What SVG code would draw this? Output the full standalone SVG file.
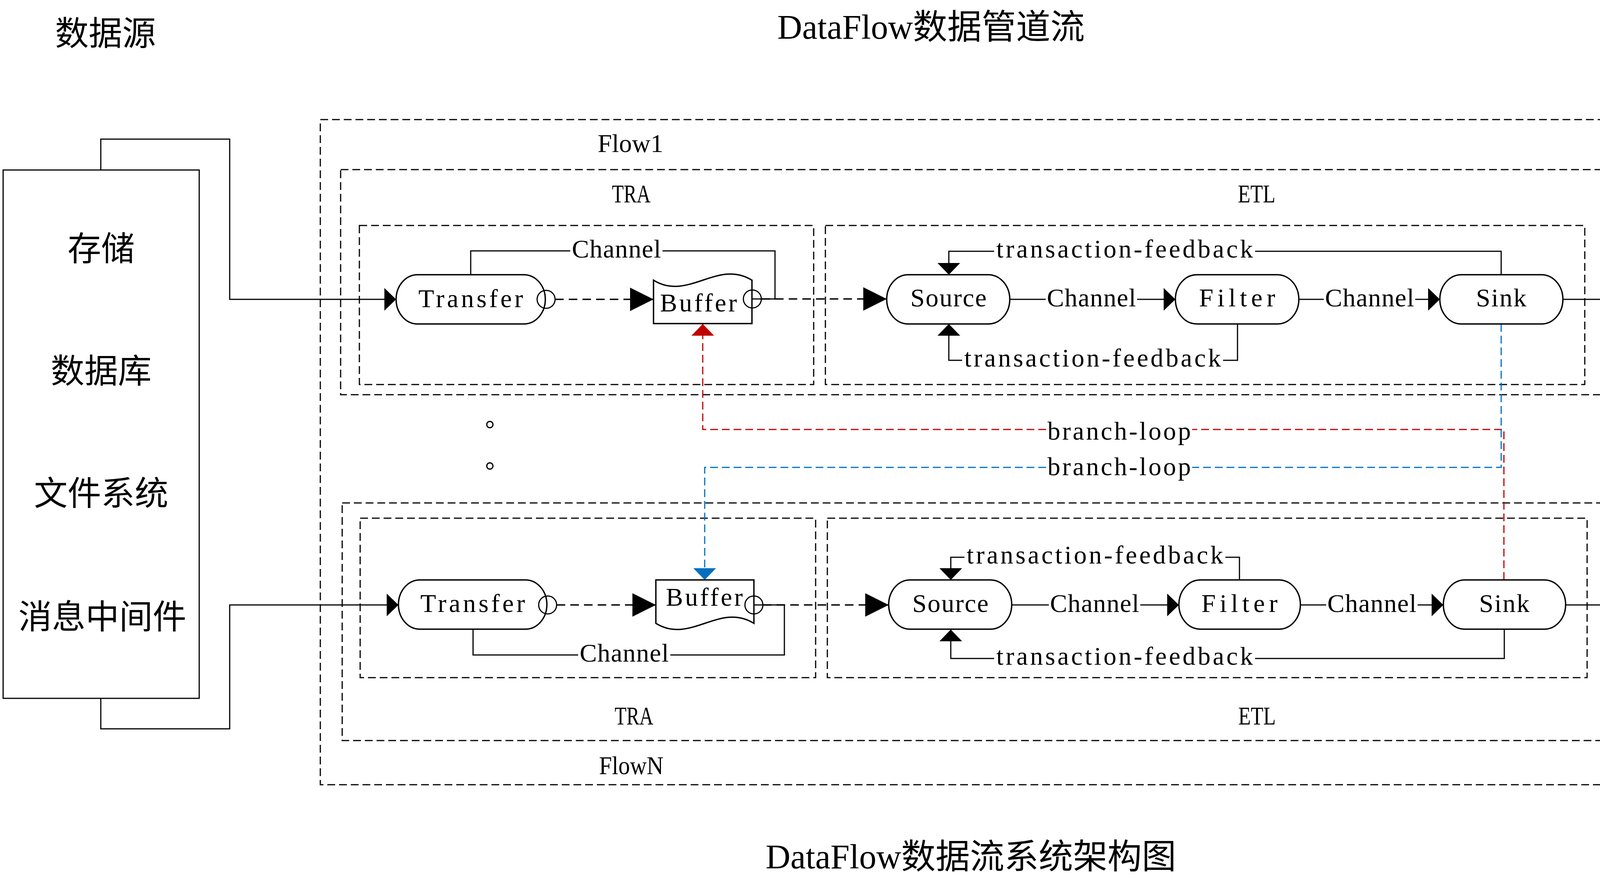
<svg xmlns="http://www.w3.org/2000/svg" width="4993" height="2280" viewBox="0 0 4993 2280">
<style>
.ln{fill:none;stroke:#000;stroke-width:3}
.dc{fill:none;stroke:#000;stroke-width:3.5;stroke-dasharray:22 13}
.bx{fill:none;stroke:#000;stroke-width:3;stroke-dasharray:20 10}
.rd{fill:none;stroke:#C00000;stroke-width:3;stroke-dasharray:20 10}
.bl{fill:none;stroke:#0070C0;stroke-width:3;stroke-dasharray:20 10}
.nd{fill:#fff;stroke:#000;stroke-width:3.5}
.pt{fill:none;stroke:#000;stroke-width:3}
.box{fill:#fff;stroke:#000;stroke-width:3}
.t{font-family:"Liberation Serif",serif;font-size:66px;text-anchor:middle;fill:#000}
.c{font-family:"Noto Sans CJK SC",sans-serif;font-size:86px;text-anchor:middle;fill:#000}
.tl{font-family:"Liberation Serif","Noto Sans CJK SC",serif;font-size:88px;fill:#000}
.tl .cj{font-family:"Noto Sans CJK SC",sans-serif}
.dot{font-family:"Noto Sans CJK SC",sans-serif;font-size:62px;fill:#000}
</style>
<defs>
<marker id="aS" viewBox="0 0 30 58" refX="30" refY="29" markerWidth="30" markerHeight="58" markerUnits="userSpaceOnUse" orient="auto"><path d="M0,0 L30,29 L0,58 Z" fill="#000"/></marker>
<marker id="aD" viewBox="0 0 60 60" refX="60" refY="30" markerWidth="60" markerHeight="60" markerUnits="userSpaceOnUse" orient="auto"><path d="M0,0 L60,30 L0,60 Z" fill="#000"/></marker>
<marker id="aR" viewBox="0 0 30 58" refX="30" refY="29" markerWidth="30" markerHeight="58" markerUnits="userSpaceOnUse" orient="auto"><path d="M0,0 L30,29 L0,58 Z" fill="#C00000"/></marker>
<marker id="aB" viewBox="0 0 30 58" refX="30" refY="29" markerWidth="30" markerHeight="58" markerUnits="userSpaceOnUse" orient="auto"><path d="M0,0 L30,29 L0,58 Z" fill="#0070C0"/></marker>
</defs>
<rect width="4993" height="2280" fill="#fff"/>

<g id="titles">
<text class="c" x="270" y="116">数据源</text>
<text class="c" x="4732" y="116">目标件</text>
<text class="tl" x="1990" y="99">DataFlow<tspan class="cj">数据管道流</tspan></text>
<text class="tl" x="1960" y="2222">DataFlow<tspan class="cj">数据流系统架构图</tspan></text>
</g>

<g id="containers">
<g id="flow-region"><rect class="bx" x="820" y="306" width="3338" height="1702"/>
<text class="t" x="1614" y="389" textLength="168" lengthAdjust="spacingAndGlyphs">Flow1</text>
<text class="t" x="1616" y="1981" textLength="165" lengthAdjust="spacingAndGlyphs">FlowN</text></g>
<g id="flow1-box"><rect class="bx" x="872" y="434" width="3230" height="576"/>
<text class="t" x="1616" y="518" textLength="99" lengthAdjust="spacingAndGlyphs">TRA</text>
<text class="t" x="3217" y="518" textLength="96" lengthAdjust="spacingAndGlyphs">ETL</text></g>
<g id="flow1-tra"><rect class="bx" x="920" y="577" width="1163" height="407"/></g>
<g id="flow1-etl"><rect class="bx" x="2113" y="577" width="1944" height="407"/></g>
<g id="flowN-box"><rect class="bx" x="876" y="1287" width="3230" height="608"/>
<text class="t" x="1623" y="1854" textLength="99" lengthAdjust="spacingAndGlyphs">TRA</text>
<text class="t" x="3218" y="1854" textLength="96" lengthAdjust="spacingAndGlyphs">ETL</text></g>
<g id="flowN-tra"><rect class="bx" x="922" y="1326" width="1166" height="408"/></g>
<g id="flowN-etl"><rect class="bx" x="2118" y="1326" width="1945" height="408"/></g>
<g id="dots"><text class="dot" x="1242" y="1092">。</text><text class="dot" x="1242" y="1198">。</text></g>
</g>

<g id="connectors">
<path class="ln" d="M258,435 V356 H588 V766 H1014" marker-end="url(#aS)"/>
<path class="ln" d="M258,1787 V1865 H588 V1548 H1020" marker-end="url(#aS)"/>
<path class="ln" d="M4001,766 H4381 V356 H4714 V434" marker-end="url(#aS)"/>
<path class="ln" d="M4008,1548 H4381 V1865 H4714 V1787" marker-end="url(#aS)"/>

<path class="ln" d="M1205,703 V642 H1460 M1696,642 H1984 V765 H1926"/>
<text class="t" x="1578" y="659" textLength="228">Channel</text>
<path class="dc" d="M1421,766 H1673" marker-end="url(#aD)"/>
<path class="dc" d="M1949,765 H2270" marker-end="url(#aD)"/>
<path class="ln" d="M2585,766 H2677 M2911,766 H3009" marker-end="url(#aS)"/>
<text class="t" x="2794" y="784" textLength="228">Channel</text>
<path class="ln" d="M3325,766 H3389 M3623,766 H3686" marker-end="url(#aS)"/>
<text class="t" x="3506" y="784" textLength="228">Channel</text>
<path class="ln" d="M3843,703 V643 H3213 M2545,643 H2429 V703" marker-end="url(#aS)"/>
<text class="t" x="2879" y="659" textLength="657">transaction-feedback</text>
<path class="ln" d="M3168,829 V922 H3131 M2463,922 H2429 V829" marker-end="url(#aS)"/>
<text class="t" x="2797" y="938" textLength="657">transaction-feedback</text>

<path class="ln" d="M1211,1610 V1676 H1480 M1716,1676 H2008 V1548 H1930"/>
<text class="t" x="1598" y="1693" textLength="228">Channel</text>
<path class="dc" d="M1425,1548 H1679" marker-end="url(#aD)"/>
<path class="dc" d="M1953,1548 H2275" marker-end="url(#aD)"/>
<path class="ln" d="M2590,1548 H2685 M2919,1548 H3018" marker-end="url(#aS)"/>
<text class="t" x="2802" y="1566" textLength="228">Channel</text>
<path class="ln" d="M3329,1548 H3395 M3629,1548 H3695" marker-end="url(#aS)"/>
<text class="t" x="3512" y="1566" textLength="228">Channel</text>
<path class="ln" d="M3173,1484 V1426 H3137 M2469,1426 H2434 V1484" marker-end="url(#aS)"/>
<text class="t" x="2803" y="1442" textLength="657">transaction-feedback</text>
<path class="ln" d="M3851,1610 V1685 H3213 M2545,1685 H2434 V1611" marker-end="url(#aS)"/>
<text class="t" x="2879" y="1701" textLength="657">transaction-feedback</text>

<path class="rd" d="M3850,1484 V1099 H3052 M2678,1099 H1799 V829" marker-end="url(#aR)"/>
<text class="t" x="2865" y="1125" textLength="367">branch-loop</text>
<path class="bl" d="M3843,829 V1196 H3052 M2678,1196 H1804 V1484" marker-end="url(#aB)"/>
<text class="t" x="2865" y="1216" textLength="367">branch-loop</text>
</g>

<g id="source-store">
<rect class="box" x="8" y="435" width="502" height="1352"/>
<text class="c" x="259" y="667">存储</text>
<text class="c" x="259" y="980">数据库</text>
<text class="c" x="259" y="1293">文件系统</text>
<text class="c" x="262" y="1609">消息中间件</text>
</g>
<g id="target-store">
<rect class="box" x="4458" y="434" width="508" height="1353"/>
<text class="c" x="4712" y="667">存储</text>
<text class="c" x="4712" y="980">数据库</text>
<text class="c" x="4712" y="1293">文件系统</text>
<text class="c" x="4715" y="1609">消息中间件</text>
</g>

<g id="flow1-transfer"><rect class="nd" x="1014" y="703" width="382" height="126" rx="55" ry="63"/>
<text class="t" x="1205" y="786" textLength="268">Transfer</text><circle class="pt" cx="1398" cy="766" r="23"/></g>
<g id="flow1-buffer"><path class="nd" d="M1673,717 C1761,772 1837,662 1925,717 V828 H1673 Z"/>
<text class="t" x="1788" y="797" textLength="197">Buffer</text><circle class="pt" cx="1926" cy="765" r="23"/></g>
<g id="flow1-source"><rect class="nd" x="2270" y="703" width="315" height="126" rx="55" ry="63"/>
<text class="t" x="2428" y="784" textLength="195">Source</text></g>
<g id="flow1-filter"><rect class="nd" x="3009" y="703" width="316" height="126" rx="55" ry="63"/>
<text class="t" x="3167" y="784" textLength="195">Filter</text></g>
<g id="flow1-sink"><rect class="nd" x="3686" y="703" width="315" height="126" rx="55" ry="63"/>
<text class="t" x="3843" y="784" textLength="129">Sink</text></g>

<g id="flowN-transfer"><rect class="nd" x="1020" y="1484" width="380" height="126" rx="55" ry="63"/>
<text class="t" x="1210" y="1566" textLength="268">Transfer</text><circle class="pt" cx="1402" cy="1548" r="23"/></g>
<g id="flowN-buffer"><path class="nd" d="M1679,1484 H1930 V1595 C1842,1540 1767,1650 1679,1595 Z"/>
<text class="t" x="1803" y="1550" textLength="197">Buffer</text><circle class="pt" cx="1930" cy="1548" r="23"/></g>
<g id="flowN-source"><rect class="nd" x="2275" y="1484" width="315" height="126" rx="55" ry="63"/>
<text class="t" x="2433" y="1566" textLength="195">Source</text></g>
<g id="flowN-filter"><rect class="nd" x="3018" y="1484" width="311" height="126" rx="55" ry="63"/>
<text class="t" x="3173" y="1566" textLength="195">Filter</text></g>
<g id="flowN-sink"><rect class="nd" x="3695" y="1484" width="313" height="126" rx="55" ry="63"/>
<text class="t" x="3851" y="1566" textLength="129">Sink</text></g>
</svg>
